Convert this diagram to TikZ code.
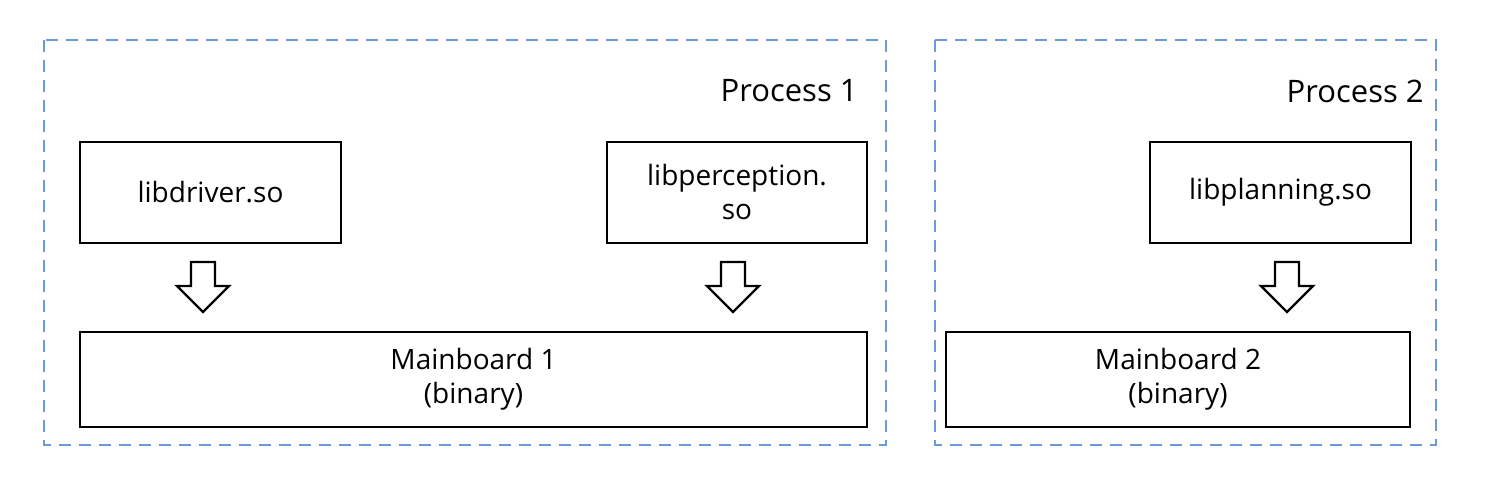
\documentclass[tikz,border=0pt]{standalone}
\usepackage{fontspec}
\setmainfont{Open Sans}
\begin{document}
\begin{tikzpicture}[x=0.5pt,y=-0.5pt,
 grp/.style={draw=cyan!50!blue!60!white, dashed, dash pattern=on 6pt off 4pt, line width=1pt},
 box/.style={draw=black, line width=1.2pt, fill=white, inner sep=0pt, align=center, font=\fontsize{14}{17}\selectfont},
 lbl/.style={font=\fontsize{15.5}{18}\selectfont, anchor=east, inner sep=0pt},
 harrow/.style={draw=black, line width=1.2pt, fill=white}]
\useasboundingbox (0,0) rectangle (1486,480);
\draw[grp] (44,40) rectangle (886,445);
\draw[grp] (935,40) rectangle (1436,445);
\node[lbl] (p1) at (858,91) {Process 1};
\node[lbl] (p2) at (1424,91) {Process 2};
\node[box, minimum width=130.5pt, minimum height=50.5pt] (drv) at (210.5,192.5) {libdriver.so};
\node[box, minimum width=130pt, minimum height=50.5pt] (per) at (737,192.5) {libperception.\\so};
\node[box, minimum width=130.5pt, minimum height=50.5pt] (pln) at (1280.5,192.5) {libplanning.so};
\node[box, minimum width=393.5pt, minimum height=47.5pt] (mb1) at (473.5,379.5) {Mainboard 1\\(binary)};
\node[box, minimum width=232pt, minimum height=47.5pt] (mb2) at (1178,379.5) {Mainboard 2\\(binary)};
\foreach \x in {203,733,1287}{
 \draw[harrow] (\x-12,262) -- (\x+12,262) -- (\x+12,286) -- (\x+26,286) -- (\x,312) -- (\x-26,286) -- (\x-12,286) -- cycle;
}
\end{tikzpicture}
\end{document}
